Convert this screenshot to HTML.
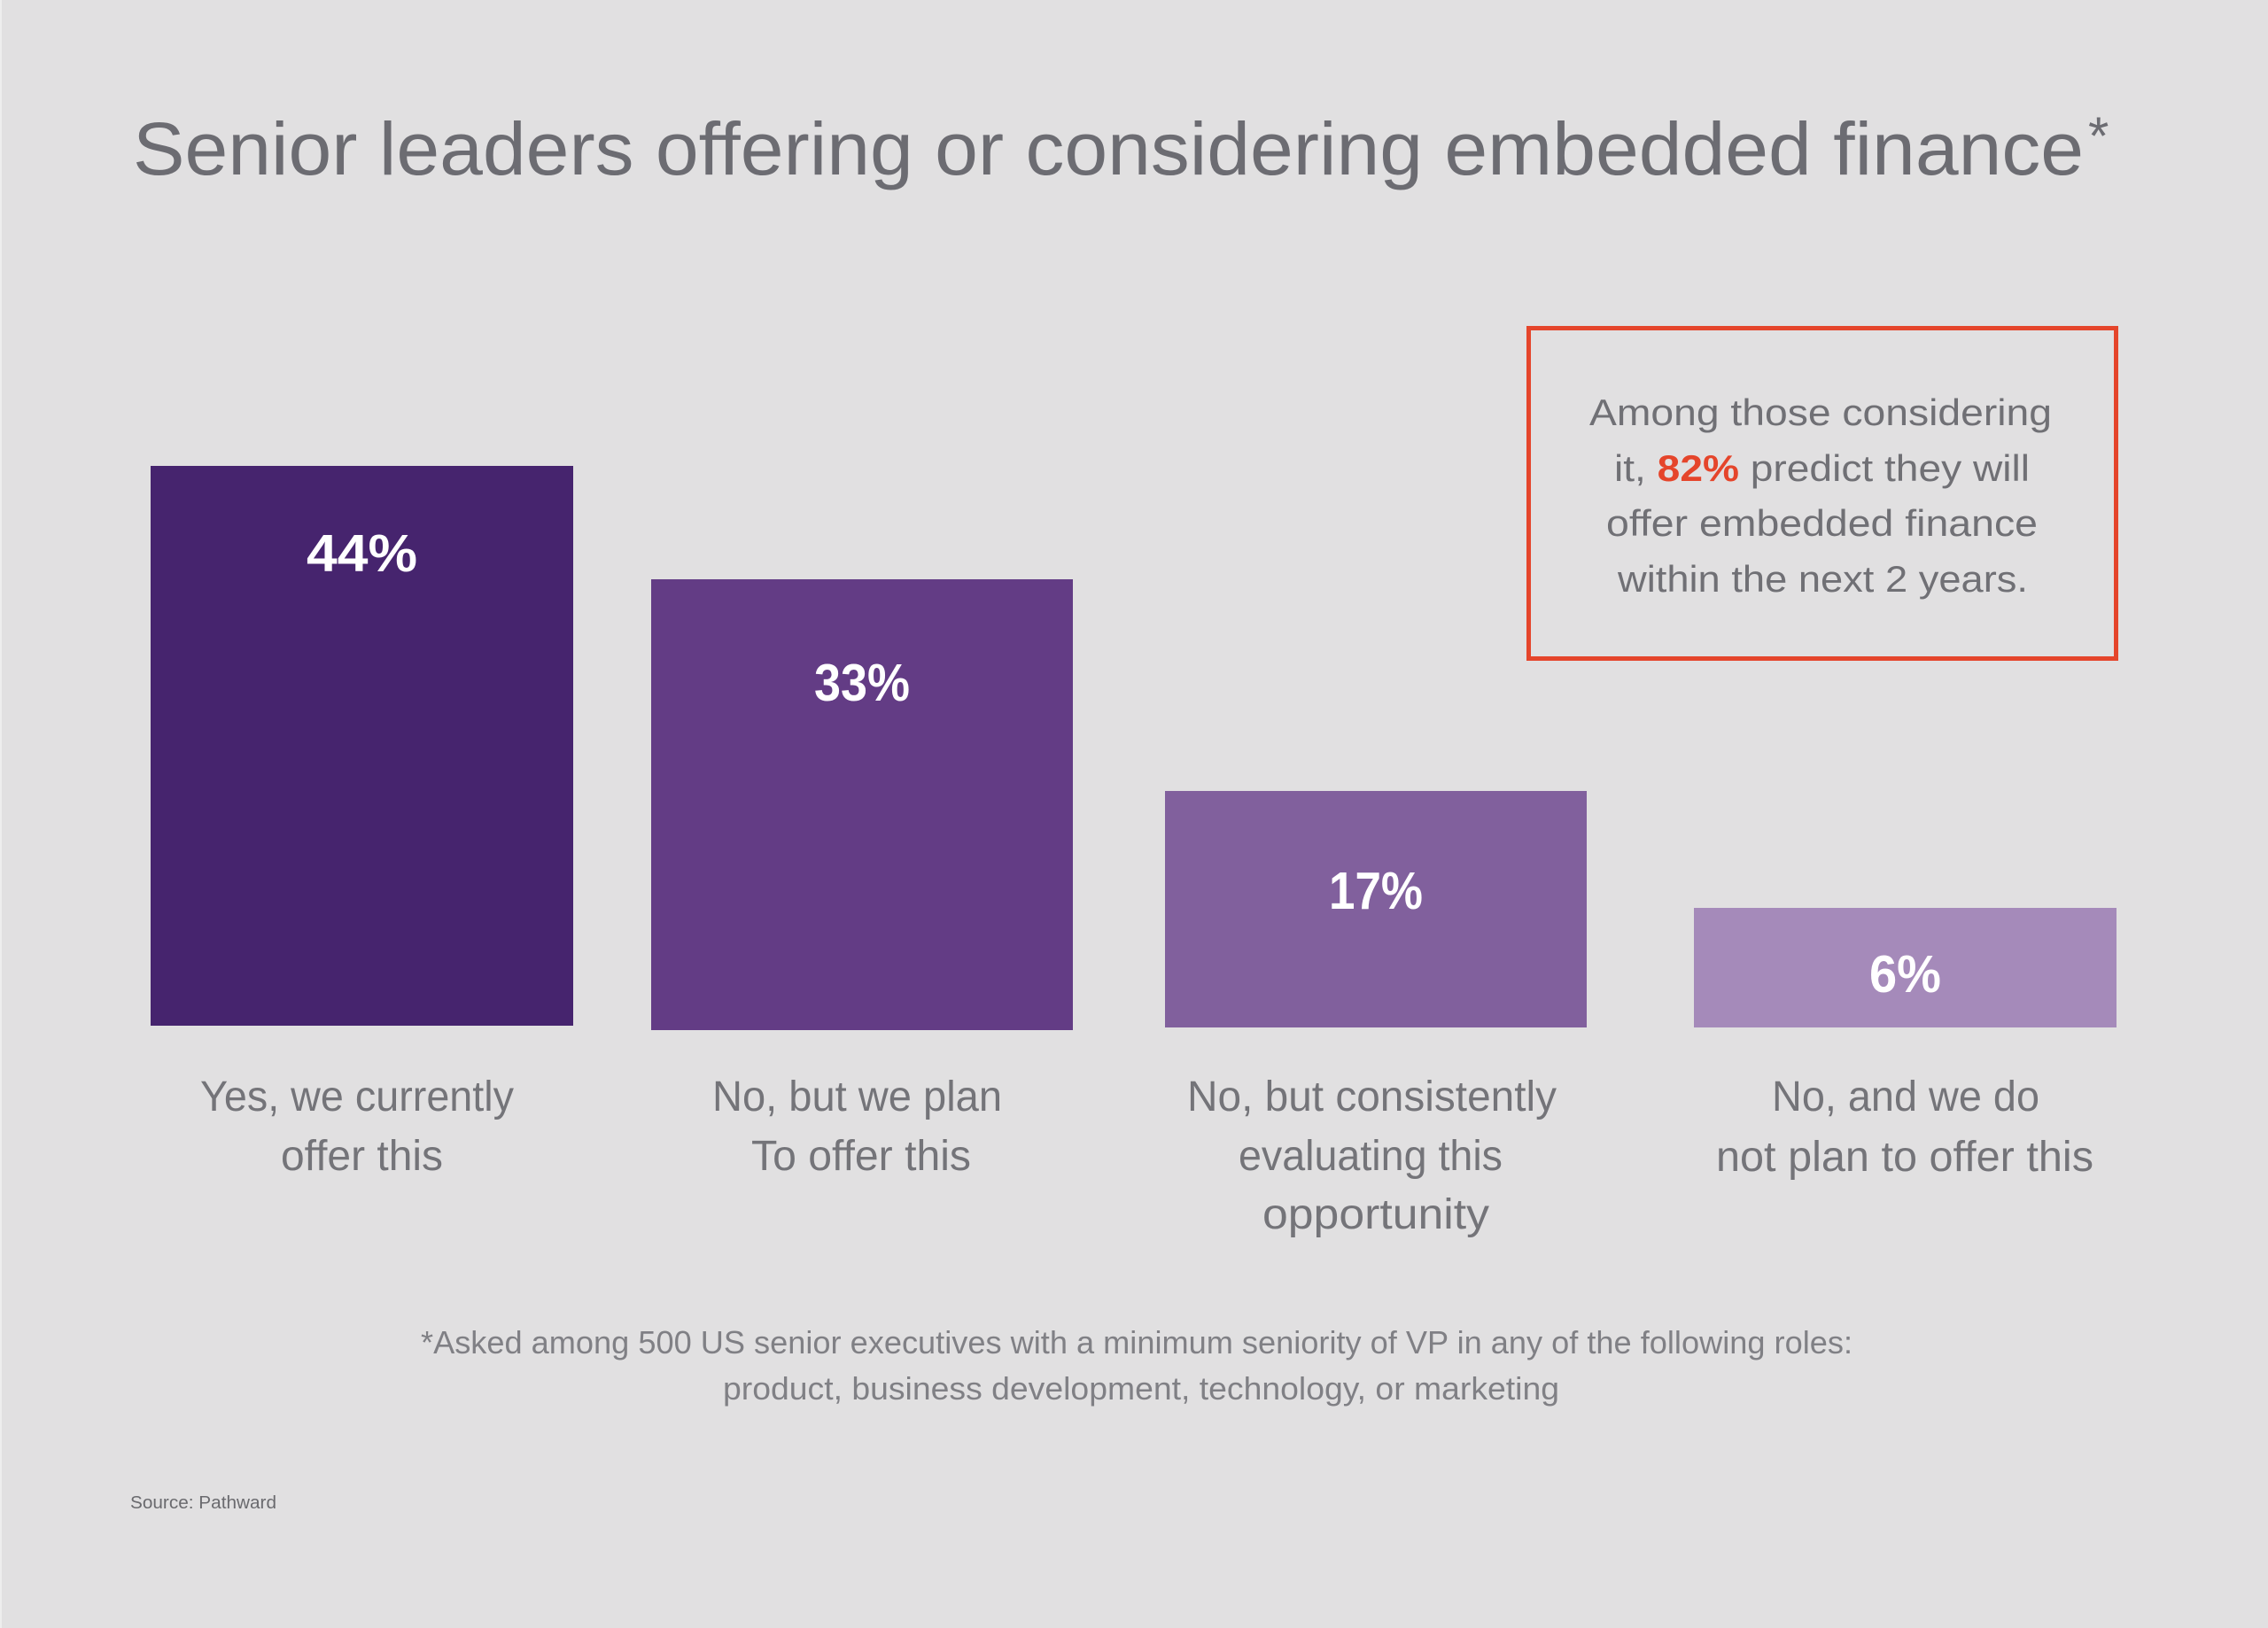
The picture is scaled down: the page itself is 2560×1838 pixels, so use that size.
<!DOCTYPE html>
<html>
<head>
<meta charset="utf-8">
<style>
  html, body { margin: 0; padding: 0; background: #e1e0e1; }
  body { width: 2560px; height: 1838px; overflow: hidden; }
  svg { display: block; }
  text { font-family: "Liberation Sans", sans-serif; }
</style>
</head>
<body>
<svg width="2560" height="1838" viewBox="0 0 2560 1838" xmlns="http://www.w3.org/2000/svg">
  <rect x="0" y="0" width="2560" height="1838" fill="#e1e0e1"/>
  <rect x="0" y="0" width="2" height="1838" fill="#eeeeee"/>

  <!-- Title -->
  <text x="150" y="197" font-size="84" fill="#6c6c72" textLength="2202" lengthAdjust="spacingAndGlyphs">Senior leaders offering or considering embedded finance</text>
  <text x="2357" y="174" font-size="60" fill="#6c6c72">*</text>

  <!-- Callout box -->
  <rect x="1725.5" y="370.5" width="663" height="373" fill="none" stroke="#e5452b" stroke-width="5"/>
  <text x="1794" y="480" font-size="42" fill="#707075" textLength="522" lengthAdjust="spacingAndGlyphs">Among those considering</text>
  <text x="1822" y="543" font-size="42" fill="#707075" textLength="469" lengthAdjust="spacingAndGlyphs">it, <tspan fill="#e5452b" font-weight="bold">82%</tspan> predict they will</text>
  <text x="1813" y="605" font-size="42" fill="#707075" textLength="487" lengthAdjust="spacingAndGlyphs">offer embedded finance</text>
  <text x="1826" y="668" font-size="42" fill="#707075" textLength="463" lengthAdjust="spacingAndGlyphs">within the next 2 years.</text>

  <!-- Bars -->
  <rect x="170" y="526" width="477" height="632" fill="#46246e"/>
  <rect x="735" y="654" width="476" height="509" fill="#633c85"/>
  <rect x="1315" y="893" width="476" height="267" fill="#81609d"/>
  <rect x="1912" y="1025" width="477" height="135" fill="#a58aba"/>

  <!-- Bar value labels -->
  <text x="346" y="645" font-size="59" font-weight="bold" fill="#ffffff" textLength="125" lengthAdjust="spacingAndGlyphs">44%</text>
  <text x="919" y="791" font-size="59" font-weight="bold" fill="#ffffff" textLength="108" lengthAdjust="spacingAndGlyphs">33%</text>
  <text x="1500" y="1026" font-size="59" font-weight="bold" fill="#ffffff" textLength="106" lengthAdjust="spacingAndGlyphs">17%</text>
  <text x="2110" y="1120" font-size="59" font-weight="bold" fill="#ffffff" textLength="81" lengthAdjust="spacingAndGlyphs">6%</text>

  <!-- Category labels -->
  <g font-size="48" fill="#747479">
    <text x="226" y="1254" textLength="354" lengthAdjust="spacingAndGlyphs">Yes, we currently</text>
    <text x="317" y="1321" textLength="183" lengthAdjust="spacingAndGlyphs">offer this</text>

    <text x="804" y="1254" textLength="327" lengthAdjust="spacingAndGlyphs">No, but we plan</text>
    <text x="848" y="1321" textLength="248" lengthAdjust="spacingAndGlyphs">To offer this</text>

    <text x="1340" y="1254" textLength="417" lengthAdjust="spacingAndGlyphs">No, but consistently</text>
    <text x="1398" y="1321" textLength="298" lengthAdjust="spacingAndGlyphs">evaluating this</text>
    <text x="1425" y="1387" textLength="256" lengthAdjust="spacingAndGlyphs">opportunity</text>

    <text x="2000" y="1254" textLength="302" lengthAdjust="spacingAndGlyphs">No, and we do</text>
    <text x="1937" y="1322" textLength="426" lengthAdjust="spacingAndGlyphs">not plan to offer this</text>
  </g>

  <!-- Footnote -->
  <g font-size="36" fill="#808085">
    <text x="475" y="1528" textLength="1616" lengthAdjust="spacingAndGlyphs">*Asked among 500 US senior executives with a minimum seniority of VP in any of the following roles:</text>
    <text x="816" y="1580" textLength="944" lengthAdjust="spacingAndGlyphs">product, business development, technology, or marketing</text>
  </g>

  <!-- Source -->
  <text x="147" y="1703" font-size="20" fill="#6a6a6e" textLength="165" lengthAdjust="spacingAndGlyphs">Source: Pathward</text>
</svg>
</body>
</html>
